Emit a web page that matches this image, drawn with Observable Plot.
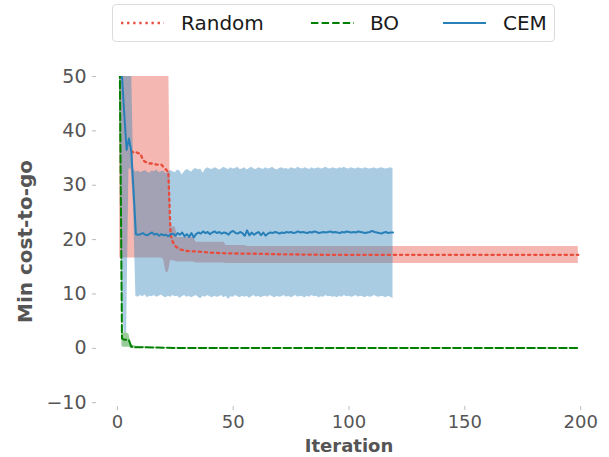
<!DOCTYPE html>
<html>
<head>
<meta charset="utf-8">
<script src="https://cdn.jsdelivr.net/npm/d3@7"></script>
<script src="https://cdn.jsdelivr.net/npm/@observablehq/plot@0.6"></script>
<style>
  html, body { margin: 0; padding: 0; background: #fff; }
  #wrap { position: relative; width: 609px; height: 457px; font-family: "DejaVu Sans", sans-serif; }
  #legend { position: absolute; left: 112px; top: 4px; width: 443px; height: 38px; border: 1px solid #dcdcdc; border-radius: 4px; background: rgba(255,255,255,0.85); box-sizing: border-box; }
  #legend .sw { position: absolute; top: 11px; }
  #legend .lab { position: absolute; top: 6px; font-size: 20px; color: #1a1a1a; line-height: 24px; }
</style>
</head>
<body>
<div id="wrap">
  <div id="chart"></div>
  <div id="legend"></div>
</div>
<script>
// ---- Series names / colors ----
const seriesNames = ["Random", "BO", "CEM"];
const seriesColors = ["#e74c3c", "green", "#2980b9"];

// ---- Random (key points) ----
const randomIter = [6, 7, 8, 9, 10, 11, 12, 13, 14, 15, 16, 17, 18, 19, 20, 21, 22, 23, 24, 25, 26, 27, 28, 29, 30, 35, 40, 45, 50, 60, 70, 80, 90, 100, 120, 150, 199];
const randomMean = [36.3, 36.0, 36.1, 35.9, 35.8, 34.7, 34.3, 34.2, 34.0, 34.0, 33.9, 33.8, 33.8, 33.8, 33.3, 32.9, 32.4, 20.8, 19.5, 18.8, 18.5, 18.2, 18.1, 18.0, 17.9, 17.8, 17.6, 17.5, 17.45, 17.4, 17.3, 17.25, 17.2, 17.2, 17.2, 17.2, 17.2];
const randomBandIter = [1, 19, 20, 21, 22, 23, 25, 26, 33, 34, 46, 47, 55, 56, 199];
const randomUpper = [60, 60, 60, 60, 60, 22.3, 22.3, 20.4, 20.4, 19.5, 19.5, 18.9, 18.9, 18.75, 18.75];
const randomLower = [16.6, 16.6, 16.3, 14.0, 14.0, 16.2, 16.0, 15.9, 15.9, 15.7, 15.7, 15.6, 15.6, 15.6, 15.6];

// ---- BO (key points) ----
const boIter = [1, 2, 3, 4, 5, 6, 7, 8, 10, 15, 20, 30, 199];
const boMean = [55, 1.8, 1.6, 1.6, 1.5, 0.3, 0.25, 0.2, 0.2, 0.15, 0.1, 0.05, 0.05];
const boUpper = [60, 3.0, 2.8, 2.8, 2.6, 0.6, 0.5, 0.4, 0.3, 0.2, 0.15, 0.1, 0.1];
const boLower = [45, 0.3, 0.2, 0.2, 0.2, 0.0, 0.0, 0.0, 0.0, 0.0, 0.0, 0.0, 0.0];

// ---- CEM (every iteration 1..119) ----
const cemMean = [
  55, 50, 43, 36.5, 38.6, 36.3, 29, 21.0, 20.9, 21.0,
  21.2, 20.9, 20.8, 21.1, 21.3, 20.9, 21.1, 20.7, 21.0, 20.8,
  20.9, 20.6, 21.0, 21.1, 20.7, 21.2, 20.9, 21.3, 20.6, 21.0,
  20.5, 21.2, 20.4, 21.0, 21.3, 21.1, 21.5, 21.2, 21.4, 21.0,
  21.3, 21.5, 21.2, 21.4, 21.1, 21.3, 21.2, 20.9, 21.4, 21.6,
  21.2, 21.1, 21.4, 21.2, 20.7, 21.7, 20.8, 21.3, 20.9, 21.2,
  21.4, 20.8, 21.3, 20.7, 21.1, 21.3, 21.2, 21.4, 21.3, 21.1,
  21.3, 21.2, 21.4, 21.3, 21.4, 21.2, 21.3, 21.5, 21.3, 21.4,
  21.3, 21.2, 21.4, 21.3, 21.5, 21.4, 21.2, 21.3, 21.4, 21.3,
  21.4, 21.5, 21.3, 21.4, 21.3, 21.2, 21.4, 21.3, 21.5, 21.4,
  21.3, 21.4, 21.3, 21.5, 21.4, 21.3, 21.2, 21.3, 21.4, 21.6,
  21.4, 21.3, 21.2, 21.1, 21.3, 21.4, 21.2, 21.3, 21.3
];
const cemUpper = [
  55, 55, 55, 55, 55, 55, 33.0, 32.4, 32.6, 32.3,
  32.5, 32.7, 32.4, 32.2, 32.6, 32.5, 32.8, 32.3, 32.5, 32.6,
  32.1, 32.4, 32.7, 32.5, 32.3, 32.8, 32.6, 31.9, 32.5, 32.9,
  32.7, 32.4, 32.9, 33.1, 32.8, 33.0, 32.2, 32.9, 33.2, 33.0,
  32.9, 33.2, 33.1, 32.8, 33.0, 33.3, 33.1, 32.9, 33.2, 33.0,
  33.1, 33.3, 32.9, 33.0, 33.2, 32.8, 33.1, 33.3, 33.0, 32.9,
  33.2, 33.1, 32.9, 33.2, 33.0, 33.1, 33.3, 33.0, 32.8, 33.1,
  33.2, 33.0, 33.1, 32.9, 33.2, 33.1, 33.0, 33.3, 33.1, 33.0,
  33.2, 33.1, 32.9, 33.2, 33.0, 33.1, 33.2, 33.0, 33.1, 33.3,
  33.1, 33.0, 33.2, 33.1, 33.0, 33.2, 33.1, 33.3, 33.1, 33.0,
  33.2, 33.1, 33.0, 33.2, 33.1, 33.0, 33.2, 33.1, 33.0, 33.1,
  33.2, 33.0, 33.1, 33.2, 33.1, 33.0, 33.1, 33.2, 33.1
];
const cemLower = [
  50, 8, 2.8, 2.8, 33, 33, 26, 9.6, 9.4, 9.7,
  9.5, 9.8, 9.3, 9.6, 9.5, 9.7, 9.4, 9.6, 9.8, 9.5,
  9.3, 9.6, 9.4, 9.7, 9.5, 9.6, 9.2, 9.5, 9.7, 9.4,
  9.6, 9.3, 9.5, 9.7, 9.4, 9.1, 9.6, 9.4, 9.7, 9.5,
  9.3, 9.6, 9.4, 9.5, 9.7, 9.3, 9.6, 9.0, 9.5, 9.4,
  9.7, 9.5, 9.3, 9.6, 9.4, 9.6, 9.2, 9.5, 9.7, 9.4,
  9.6, 9.3, 9.5, 9.6, 9.4, 9.7, 9.5, 9.3, 9.6, 9.4,
  9.5, 9.7, 9.4, 9.6, 9.3, 9.5, 9.7, 9.4, 9.6, 9.5,
  9.3, 9.6, 9.4, 9.7, 9.5, 9.6, 9.3, 9.5, 9.4, 9.7,
  9.5, 9.6, 9.4, 9.5, 9.3, 9.6, 9.4, 9.7, 9.5, 9.6,
  9.4, 9.5, 9.7, 9.4, 9.6, 9.5, 9.3, 9.6, 9.4, 9.5,
  9.7, 9.5, 9.4, 9.6, 9.5, 9.3, 9.6, 9.4, 9.1
];

// ---- Axis ticks ----
const xTicks = [0, 50, 100, 150, 200];
const yTicks = [-10, 0, 10, 20, 30, 40, 50];

// ---- Build tables ----
const randomLine = randomIter.map((x, i) => ({x, y: randomMean[i]}));
const randomBand = randomBandIter.map((x, i) => ({x, lo: randomLower[i], hi: randomUpper[i]}));
const boLine = boIter.map((x, i) => ({x, y: boMean[i], lo: boLower[i], hi: boUpper[i]}));
const cem = cemMean.map((y, i) => ({x: i + 1, y, lo: cemLower[i], hi: cemUpper[i]}));

const chart = Plot.plot({
  width: 609,
  height: 457,
  marginLeft: 96,
  marginRight: 8,
  marginTop: 76,
  marginBottom: 51,
  style: {fontFamily: "DejaVu Sans", fontSize: "19px", color: "#555", background: "#fff", overflow: "visible"},
  x: {domain: [-9, 209]},
  y: {domain: [-10.7, 50]},
  marks: [
    Plot.areaY(randomBand, {x: "x", y1: "lo", y2: "hi", fill: seriesColors[0], fillOpacity: 0.4, clip: true}),
    Plot.areaY(boLine, {x: "x", y1: "lo", y2: "hi", fill: seriesColors[1], fillOpacity: 0.4, clip: true}),
    Plot.areaY(cem, {x: "x", y1: "lo", y2: "hi", fill: seriesColors[2], fillOpacity: 0.4, clip: true}),
    Plot.line(randomLine, {x: "x", y: "y", stroke: seriesColors[0], strokeWidth: 2.3, strokeDasharray: "2.3,3.8", clip: true}),
    Plot.line(boLine, {x: "x", y: "y", stroke: seriesColors[1], strokeWidth: 2, strokeDasharray: "7.4,3.2", clip: true}),
    Plot.line(cem, {x: "x", y: "y", stroke: seriesColors[2], strokeWidth: 2, clip: true}),
    Plot.axisX({ticks: xTicks, tickSize: 4, tickPadding: 5, label: null, stroke: "#bbb", fill: "#555", fontSize: 18}),
    Plot.axisY({ticks: yTicks, tickSize: 4, tickPadding: 6, label: null, stroke: "#bbb", fill: "#555", fontSize: 19, tickFormat: d => d < 0 ? "\u2212" + Math.abs(d) : String(d)}),
    Plot.text(["Iteration"], {frameAnchor: "bottom", dy: 45, lineAnchor: "bottom", textAnchor: "middle", text: d => d, fontWeight: "bold", fontSize: 18, fill: "#555"}),
    Plot.text(["Min cost-to-go"], {frameAnchor: "left", dx: -71, rotate: -90, lineAnchor: "middle", textAnchor: "middle", text: d => d, fontWeight: "bold", fontSize: 20, fill: "#555"})
  ]
});
document.getElementById("chart").appendChild(chart);

// ---- Legend ----
const legend = document.getElementById("legend");
const legendPos = [{sw: 8, lab: 68}, {sw: 198, lab: 257}, {sw: 330, lab: 390}];
const legendDash = ["2.3,3.8", "7.4,3.2", null];
seriesNames.forEach((name, i) => {
  const svg = document.createElementNS("http://www.w3.org/2000/svg", "svg");
  svg.setAttribute("width", "44");
  svg.setAttribute("height", "14");
  svg.setAttribute("class", "sw");
  svg.style.left = legendPos[i].sw + "px";
  const ln = document.createElementNS("http://www.w3.org/2000/svg", "line");
  ln.setAttribute("x1", "0"); ln.setAttribute("x2", "43");
  ln.setAttribute("y1", "7"); ln.setAttribute("y2", "7");
  ln.setAttribute("stroke", seriesColors[i]);
  ln.setAttribute("stroke-width", i === 0 ? "2.3" : "2");
  if (legendDash[i]) ln.setAttribute("stroke-dasharray", legendDash[i]);
  svg.appendChild(ln);
  legend.appendChild(svg);
  const t = document.createElement("div");
  t.className = "lab";
  t.style.left = legendPos[i].lab + "px";
  t.textContent = name;
  legend.appendChild(t);
});
</script>
</body>
</html>
